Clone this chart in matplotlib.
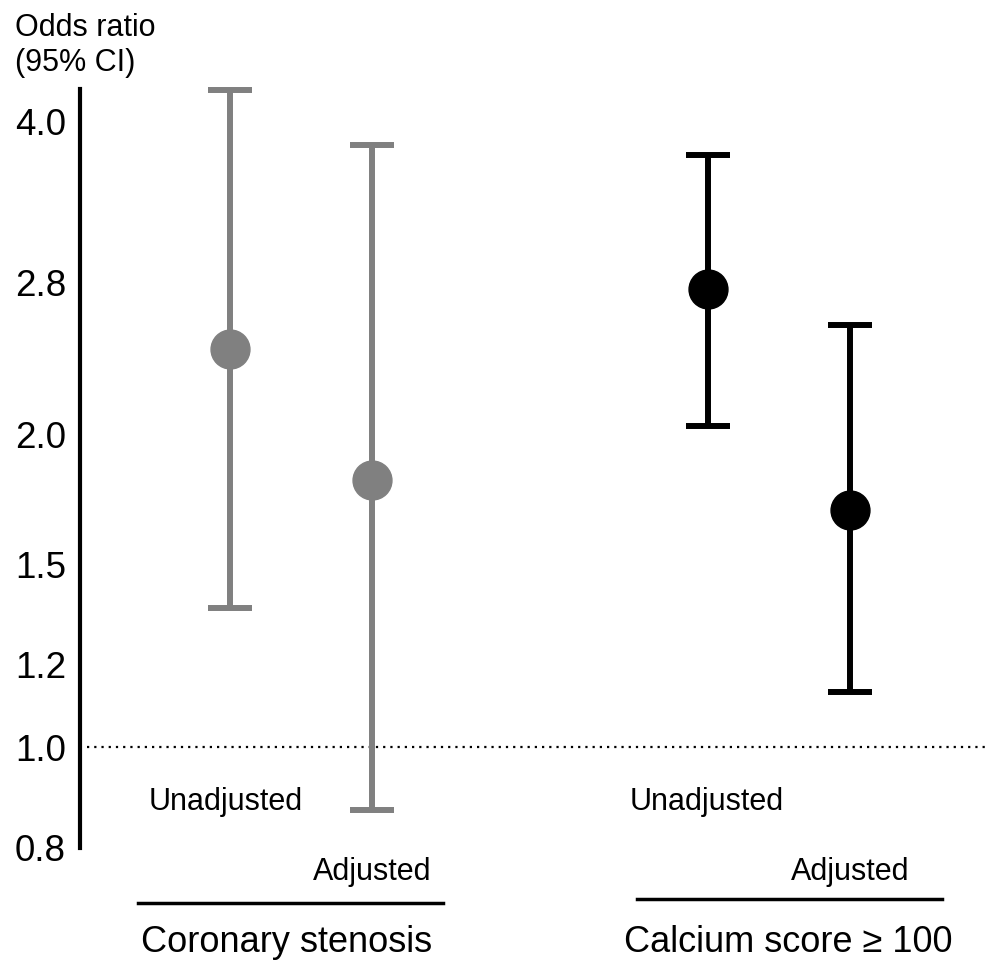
import matplotlib
matplotlib.use("Agg")
import matplotlib.pyplot as plt
from matplotlib.transforms import blended_transform_factory
from matplotlib.lines import Line2D
import numpy as np

plt.rcParams['font.family'] = ['Liberation Sans', 'DejaVu Sans']

# Data
groups = ["Coronary stenosis", "Calcium score \u2265 100"]
models = ["Unadjusted", "Adjusted"]
odds = [2.42, 1.81, 2.76, 1.69]
ci_low = [1.36, 0.87, 2.04, 1.13]
ci_high = [4.29, 3.80, 3.72, 2.55]
colors = ["#808080", "#808080", "#000000", "#000000"]
yticks = [0.8, 1.0, 1.2, 1.5, 2.0, 2.8, 4.0]
ytick_labels = ["0.8", "1.0", "1.2", "1.5", "2.0", "2.8", "4.0"]

xpos = [0.0, 1.0, 3.366, 4.366]

W, H = 998, 964
PX = 142.0  # pixels per x unit
fig = plt.figure(figsize=(W / 100, H / 100), dpi=100)
ax_l, ax_r, ax_t, ax_b = 80, 990, 80, 850
ax = fig.add_axes([ax_l / W, 1 - ax_b / H, (ax_r - ax_l) / W, (ax_b - ax_t) / H])
ax.set_yscale('log')
ax.set_ylim(0.796, 4.39)
ax.set_xlim(-150 / PX, (990 - 230) / PX)

for x, o, lo, hi, c in zip(xpos, odds, ci_low, ci_high, colors):
    ax.errorbar([x], [o], yerr=[[o - lo], [hi - o]], fmt='o', color=c,
                ecolor=c, elinewidth=4.3, capsize=16, capthick=4.3,
                markersize=28, zorder=3)

ax.axhline(1.0, xmin=7 / 910, xmax=906 / 910, color='black', linestyle=(0, (1, 2.25)),
           linewidth=1.6, zorder=1)

for s in ['top', 'right', 'bottom']:
    ax.spines[s].set_visible(False)
ax.spines['left'].set_linewidth(3)
ax.spines['left'].set_bounds(0.8, 4.3)
ax.set_xticks([])
ax.set_yticks(yticks)
ax.set_yticklabels(ytick_labels, fontsize=26.5)
ax.yaxis.set_minor_locator(matplotlib.ticker.NullLocator())
ax.tick_params(axis='y', length=0, pad=10)

fig.text(15 / W, 1 - 13 / H, "Odds ratio\n(95% CI)", fontsize=22, ha='left', va='top',
         linespacing=1.2)

tr = blended_transform_factory(ax.transData, fig.transFigure)
label_y = [802, 872, 802, 872]
label_dx = [-4, 0, -1, 0]
for x, m, ly, dx in zip(xpos, models * 2, label_y, label_dx):
    ax.text(x + dx / PX, 1 - ly / H, m, transform=tr, fontsize=22, ha='center', va='center')

group_centers = [(xpos[0] + xpos[1]) / 2, (xpos[2] + xpos[3]) / 2]
line_dx = [-10.5, 11]
line_y = [903, 899]
text_dx = [-14, 9]
for gc, g, ldx, ly, tdx in zip(group_centers, groups, line_dx, line_y, text_dx):
    c = gc + ldx / PX
    ax.add_line(Line2D([c - 152.5 / PX, c + 152.5 / PX], [1 - ly / H, 1 - ly / H],
                       transform=tr, color='black', linewidth=2.5, clip_on=False))
    ax.text(gc + tdx / PX, 1 - 943 / H, g, transform=tr, fontsize=26, ha='center', va='center')

fig.savefig("out.png", dpi=100)
